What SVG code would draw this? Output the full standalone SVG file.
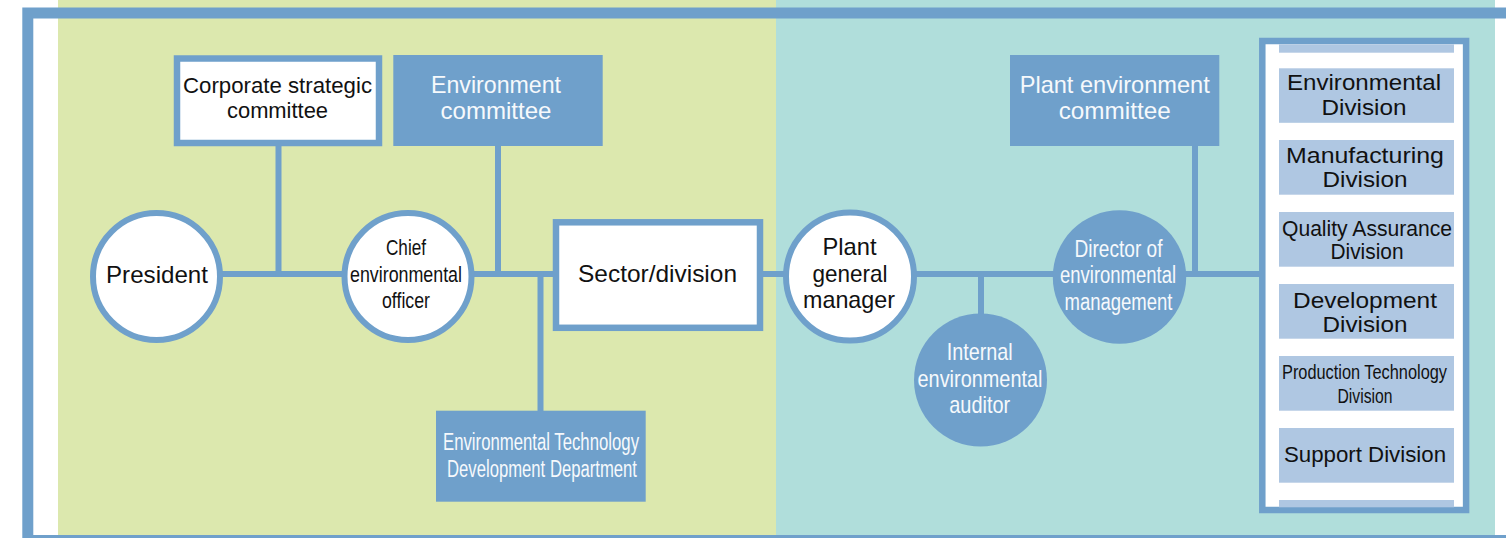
<svg xmlns="http://www.w3.org/2000/svg" width="1506" height="538" viewBox="0 0 1506 538">
<style>
.ln{stroke:#6fa0cb;stroke-width:6;fill:none}
.bw{fill:#ffffff;stroke:#6fa0cb;stroke-width:6.5}
.bb{fill:#6fa0cb}
.it{fill:#afc7e2}
text{font-family:"Liberation Sans",Arial,sans-serif;text-anchor:middle}
.k{fill:#111111}
.w{fill:#f6f9fc}
</style>
<rect x="0" y="0" width="1506" height="538" fill="#ffffff"/>
<rect x="58" y="0" width="718" height="535" fill="#dce8ae"/>
<rect x="776" y="0" width="719" height="535" fill="#b0dedb"/>
<path d="M1510 13 H27.8 V540.5 H1510" stroke="#6fa0cb" stroke-width="11" fill="none"/>

<g id="connectors">
<line class="ln" x1="220" y1="274" x2="346" y2="274"/>
<line class="ln" x1="470" y1="274" x2="556" y2="274"/>
<line class="ln" x1="760" y1="274" x2="786" y2="274"/>
<line class="ln" x1="914" y1="274" x2="1056" y2="274"/>
<line class="ln" x1="1183" y1="274" x2="1263" y2="274"/>
<line class="ln" x1="278.5" y1="146" x2="278.5" y2="277"/>
<line class="ln" x1="498" y1="146" x2="498" y2="277"/>
<line class="ln" x1="1195" y1="146" x2="1195" y2="277"/>
<line class="ln" x1="540.5" y1="271" x2="540.5" y2="411"/>
<line class="ln" x1="981" y1="271" x2="981" y2="316"/>
</g>

<g id="corporate-strategic-committee">
<rect class="bw" x="177" y="58.5" width="202" height="84.5"/>
<text class="k" x="277.5" y="93" font-size="22.5" textLength="189" lengthAdjust="spacingAndGlyphs">Corporate strategic</text>
<text class="k" x="277.5" y="118" font-size="22.5" textLength="101" lengthAdjust="spacingAndGlyphs">committee</text>
</g>

<g id="environment-committee">
<rect class="bb" x="393.3" y="55" width="209.4" height="91"/>
<text class="w" x="496" y="93" font-size="24" textLength="130" lengthAdjust="spacingAndGlyphs">Environment</text>
<text class="w" x="496" y="119" font-size="24" textLength="111" lengthAdjust="spacingAndGlyphs">committee</text>
</g>

<g id="plant-environment-committee">
<rect class="bb" x="1010" y="55" width="209.3" height="91"/>
<text class="w" x="1114.7" y="93" font-size="24" textLength="190" lengthAdjust="spacingAndGlyphs">Plant environment</text>
<text class="w" x="1114.7" y="119" font-size="24" textLength="112" lengthAdjust="spacingAndGlyphs">committee</text>
</g>

<g id="president">
<circle cx="156.5" cy="276.5" r="63.5" fill="#ffffff" stroke="#6fa0cb" stroke-width="6"/>
<text class="k" x="157" y="283" font-size="24.5" textLength="102" lengthAdjust="spacingAndGlyphs">President</text>
</g>

<g id="chief-environmental-officer">
<circle cx="408" cy="276.5" r="63.5" fill="#ffffff" stroke="#6fa0cb" stroke-width="6"/>
<text class="k" x="406" y="255" font-size="22.5" textLength="40" lengthAdjust="spacingAndGlyphs">Chief</text>
<text class="k" x="406" y="281.5" font-size="22.5" textLength="112" lengthAdjust="spacingAndGlyphs">environmental</text>
<text class="k" x="406" y="308" font-size="22.5" textLength="48" lengthAdjust="spacingAndGlyphs">officer</text>
</g>

<g id="sector-division">
<rect class="bw" x="556" y="222.3" width="204" height="105.5" stroke-width="7"/>
<text class="k" x="657.5" y="282" font-size="24.5" textLength="159" lengthAdjust="spacingAndGlyphs">Sector/division</text>
</g>

<g id="environmental-technology-development-department">
<rect class="bb" x="436" y="410.7" width="209.7" height="91"/>
<text class="w" x="541" y="450" font-size="23" textLength="196" lengthAdjust="spacingAndGlyphs">Environmental Technology</text>
<text class="w" x="542" y="476.5" font-size="23" textLength="190" lengthAdjust="spacingAndGlyphs">Development Department</text>
</g>

<g id="plant-general-manager">
<circle cx="850" cy="276.5" r="64" fill="#ffffff" stroke="#6fa0cb" stroke-width="6"/>
<text class="k" x="849.5" y="255" font-size="24" textLength="54" lengthAdjust="spacingAndGlyphs">Plant</text>
<text class="k" x="850" y="281.5" font-size="24" textLength="75" lengthAdjust="spacingAndGlyphs">general</text>
<text class="k" x="849" y="308" font-size="24" textLength="92" lengthAdjust="spacingAndGlyphs">manager</text>
</g>

<g id="internal-environmental-auditor">
<circle class="bb" cx="980.5" cy="380" r="66.5"/>
<text class="w" x="979.7" y="360" font-size="24" textLength="66" lengthAdjust="spacingAndGlyphs">Internal</text>
<text class="w" x="980" y="386.5" font-size="24" textLength="125" lengthAdjust="spacingAndGlyphs">environmental</text>
<text class="w" x="979.7" y="413" font-size="24" textLength="61" lengthAdjust="spacingAndGlyphs">auditor</text>
</g>

<g id="director-of-environmental-management">
<circle class="bb" cx="1119.5" cy="277" r="66.7"/>
<text class="w" x="1118.5" y="256.5" font-size="23" textLength="88" lengthAdjust="spacingAndGlyphs">Director of</text>
<text class="w" x="1118" y="283" font-size="23" textLength="116" lengthAdjust="spacingAndGlyphs">environmental</text>
<text class="w" x="1118.5" y="310" font-size="23" textLength="108" lengthAdjust="spacingAndGlyphs">management</text>
</g>

<g id="divisions">
<rect x="1262.3" y="41" width="203.8" height="469" fill="#ffffff" stroke="#6fa0cb" stroke-width="6.5"/>
<rect class="it" x="1279" y="44.3" width="175" height="8.4"/>
<rect class="it" x="1279" y="500" width="175" height="7.3"/>
</g>

<g id="environmental-division">
<rect class="it" x="1279" y="68.3" width="175" height="54.5"/>
<text class="k" x="1364" y="90" font-size="22" textLength="154" lengthAdjust="spacingAndGlyphs">Environmental</text>
<text class="k" x="1364" y="115" font-size="22" textLength="85" lengthAdjust="spacingAndGlyphs">Division</text>
</g>

<g id="manufacturing-division">
<rect class="it" x="1279" y="140" width="175" height="54.7"/>
<text class="k" x="1365" y="163.3" font-size="22" textLength="158" lengthAdjust="spacingAndGlyphs">Manufacturing</text>
<text class="k" x="1365" y="186.7" font-size="22" textLength="85" lengthAdjust="spacingAndGlyphs">Division</text>
</g>

<g id="quality-assurance-division">
<rect class="it" x="1279" y="212" width="175" height="54.7"/>
<text class="k" x="1367" y="235.7" font-size="21.5" textLength="170" lengthAdjust="spacingAndGlyphs">Quality Assurance</text>
<text class="k" x="1367" y="259" font-size="21.5" textLength="73" lengthAdjust="spacingAndGlyphs">Division</text>
</g>

<g id="development-division">
<rect class="it" x="1279" y="284" width="175" height="54.7"/>
<text class="k" x="1365" y="308.3" font-size="22" textLength="144" lengthAdjust="spacingAndGlyphs">Development</text>
<text class="k" x="1365" y="331.7" font-size="22" textLength="85" lengthAdjust="spacingAndGlyphs">Division</text>
</g>

<g id="production-technology-division">
<rect class="it" x="1279" y="356" width="175" height="54.7"/>
<text class="k" x="1364.5" y="379.3" font-size="20.5" textLength="165" lengthAdjust="spacingAndGlyphs">Production Technology</text>
<text class="k" x="1365" y="402.7" font-size="20.5" textLength="55" lengthAdjust="spacingAndGlyphs">Division</text>
</g>

<g id="support-division">
<rect class="it" x="1279" y="428" width="175" height="54.7"/>
<text class="k" x="1365" y="461.7" font-size="22" textLength="162" lengthAdjust="spacingAndGlyphs">Support Division</text>
</g>
</svg>
